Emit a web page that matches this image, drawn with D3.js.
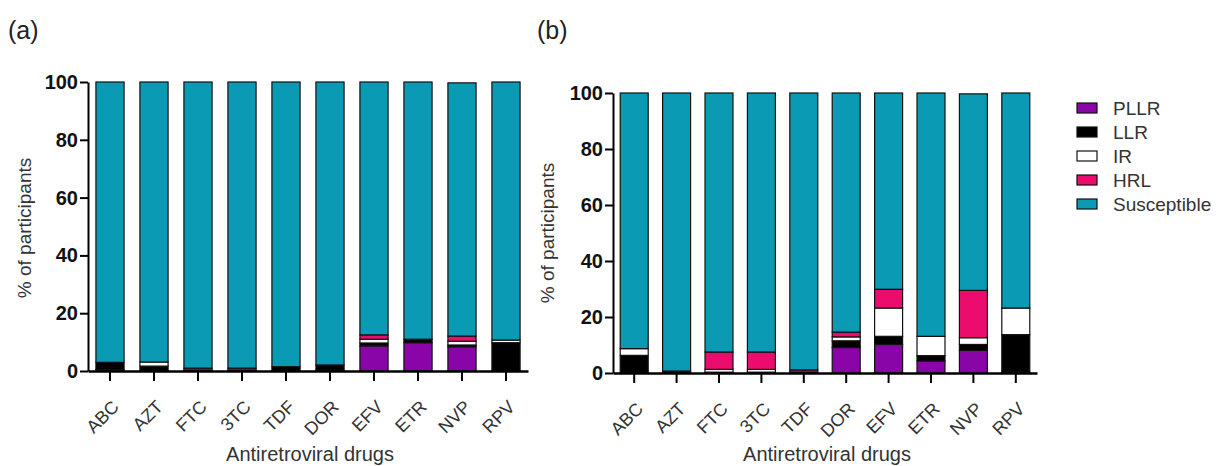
<!DOCTYPE html>
<html>
<head>
<meta charset="utf-8">
<script src="https://cdn.jsdelivr.net/npm/d3@7"></script>
<style>
  body { margin: 0; background: #fff; }
  text { font-family: "Liberation Sans", Arial, sans-serif; }
</style>
</head>
<body>
<script>
// categories and stack order (bottom to top)
var drugs = ["ABC", "AZT", "FTC", "3TC", "TDF", "DOR", "EFV", "ETR", "NVP", "RPV"];
var keys = ["PLLR", "LLR", "IR", "HRL", "Susceptible"];
var yTicks = [0, 20, 40, 60, 80, 100];

// panel (a) values, % of participants
var pllrA = [0.5, 0, 0.3, 0.3, 0, 0.3, 8.7, 9.8, 8.4, 0];
var llrA  = [2.5, 1.7, 0, 0, 1.5, 1.8, 1.0, 1.2, 0.6, 9.8];
var irA   = [0, 1.4, 0, 0, 0, 0, 1.3, 0, 1.3, 0.9];
var hrlA  = [0, 0, 0.7, 0.7, 0, 0, 1.5, 0, 1.8, 0];
var suscA = [97, 96.9, 99, 99, 98.5, 97.9, 87.5, 89, 87.6, 89.3];

// panel (b) values
var pllrB = [0, 0, 0.3, 0.3, 0, 9.1, 10.2, 4.3, 8.1, 0.3];
var llrB  = [6.3, 0.7, 0, 0, 0.3, 2.4, 2.9, 1.9, 2.1, 13.4];
var irB   = [2.4, 0, 1.0, 1.0, 0, 1.4, 10.1, 6.9, 2.4, 9.5];
var hrlB  = [0, 0, 6.2, 6.2, 0.8, 1.7, 6.7, 0, 16.9, 0];
var suscB = [91.3, 99.3, 92.5, 92.5, 98.9, 85.4, 70.1, 86.9, 70.2, 76.8];

var colors = {
  PLLR: "#8a05a8",
  LLR: "#000000",
  IR: "#ffffff",
  HRL: "#ec0c6e",
  Susceptible: "#0b9ab4"
};

var svg = d3.select("body").append("svg")
  .attr("width", 1224)
  .attr("height", 466);

function rows(p, l, i, h, s) {
  return drugs.map(function(d, k) {
    return { drug: d, PLLR: p[k], LLR: l[k], IR: i[k], HRL: h[k], Susceptible: s[k] };
  });
}

function drawPanel(opt) {
  var data = rows.apply(null, opt.series);
  var g = svg.append("g");

  var x = d3.scaleBand()
    .domain(drugs)
    .range([opt.x0, opt.x1])
    .paddingInner(opt.pad)
    .paddingOuter(opt.pad / 2);

  var y = d3.scaleLinear()
    .domain([0, 100])
    .range([opt.y0, opt.y1]);

  var stacked = d3.stack().keys(keys)(data);

  g.selectAll("g.layer")
    .data(stacked)
    .enter()
    .append("g")
    .attr("class", "layer")
    .attr("fill", function(d) { return colors[d.key]; })
    .selectAll("rect")
    .data(function(d) { return d.filter(function(v) { return v[1] - v[0] > 0; }); })
    .enter()
    .append("rect")
    .attr("x", function(d) { return x(d.data.drug); })
    .attr("width", x.bandwidth())
    .attr("y", function(d) { return y(d[1]); })
    .attr("height", function(d) { return y(d[0]) - y(d[1]); })
    .attr("stroke", "#111")
    .attr("stroke-width", 1.2);

  // y axis
  var yAxis = d3.axisLeft(y)
    .tickValues(yTicks)
    .tickSize(8)
    .tickSizeOuter(0)
    .tickPadding(2);

  var ya = g.append("g")
    .attr("transform", "translate(" + opt.x0 + ",0)")
    .call(yAxis);
  ya.select(".domain").attr("stroke-width", 2);
  ya.selectAll(".tick line").attr("stroke-width", 2);
  ya.selectAll(".tick text")
    .attr("font-size", "20px")
    .attr("font-weight", "bold")
    .attr("fill", "#111");

  // x axis
  var xAxis = d3.axisBottom(x)
    .tickSize(10)
    .tickSizeOuter(0);

  var xa = g.append("g")
    .attr("transform", "translate(0," + opt.y0 + ")")
    .call(xAxis);
  xa.select(".domain").attr("stroke-width", 2.5);
  xa.selectAll(".tick line").attr("stroke-width", 2);
  xa.selectAll(".tick text")
    .attr("x", 0)
    .attr("y", 0)
    .attr("dy", 0)
    .attr("transform", "translate(10,37) rotate(-45)")
    .attr("text-anchor", "end")
    .attr("font-size", "18px")
    .attr("fill", "#333");

  // titles
  g.append("text")
    .attr("x", (opt.x0 + opt.x1) / 2 + 2)
    .attr("y", 461)
    .attr("text-anchor", "middle")
    .attr("font-size", "20px")
    .attr("fill", "#333")
    .text("Antiretroviral drugs");

  g.append("text")
    .attr("transform", "translate(" + opt.ytx + "," + opt.yty + ") rotate(-90)")
    .attr("text-anchor", "middle")
    .attr("dominant-baseline", "central")
    .attr("font-size", "19px")
    .attr("fill", "#333")
    .text("% of participants");

  g.append("text")
    .attr("x", opt.lx)
    .attr("y", 39)
    .attr("font-size", "25px")
    .attr("fill", "#222")
    .text(opt.label);
}

drawPanel({
  series: [pllrA, llrA, irA, hrlA, suscA],
  x0: 88, x1: 528, y0: 371, y1: 82, pad: 0.36,
  ytx: 24, yty: 228, lx: 8, label: "(a)"
});

drawPanel({
  series: [pllrB, llrB, irB, hrlB, suscB],
  x0: 613, x1: 1037, y0: 373, y1: 93, pad: 0.34,
  ytx: 547, yty: 233, lx: 537, label: "(b)"
});

// legend
var legend = svg.append("g")
  .attr("transform", "translate(1077,108)");

var item = legend.selectAll("g")
  .data(keys.slice())
  .enter()
  .append("g")
  .attr("transform", function(d, i) { return "translate(0," + (i * 24) + ")"; });

item.append("rect")
  .attr("x", 0)
  .attr("y", -5)
  .attr("width", 20)
  .attr("height", 10)
  .attr("fill", function(d) { return colors[d]; })
  .attr("stroke", "#111")
  .attr("stroke-width", 1.2);

item.append("text")
  .attr("x", 36)
  .attr("y", 0)
  .attr("dominant-baseline", "central")
  .attr("font-size", "19px")
  .attr("fill", "#333")
  .text(function(d) { return d; });
</script>
</body>
</html>
